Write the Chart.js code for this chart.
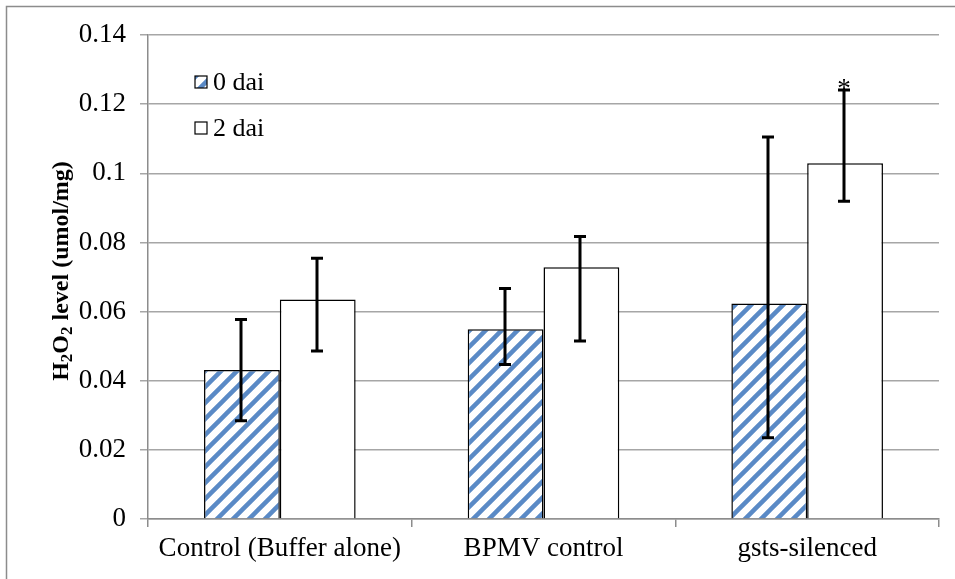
<!DOCTYPE html>
<html>
<head>
<meta charset="utf-8">
<script src="https://cdn.jsdelivr.net/npm/chart.js@4.4.1/dist/chart.umd.min.js"></script>
<style>
  html, body { margin: 0; padding: 0; background: #fff; }
  #wrap { width: 955px; height: 579px; }
</style>
</head>
<body>
<div id="wrap"><canvas id="chart" width="955" height="579"></canvas></div>
<script>
// Data
const categories = ['Control (Buffer alone)', 'BPMV control', 'gsts-silenced'];
const seriesNames = ['0 dai', '2 dai'];
const dai0 = [0.0431, 0.0549, 0.0623];
const dai0Low = [0.0284, 0.0447, 0.0235];
const dai0High = [0.0577, 0.0667, 0.1105];
const dai2 = [0.0635, 0.0728, 0.1029];
const dai2Low = [0.0486, 0.0515, 0.0919];
const dai2High = [0.0754, 0.0817, 0.1241];
const starred = [false, false, true]; // significance mark on 2 dai
const yTicks = [0, 0.02, 0.04, 0.06, 0.08, 0.1, 0.12, 0.14];

const FONT = '"Liberation Serif", "Times New Roman", serif';

// Blue diagonal stripes for the 0 dai bars
function makeStripes() {
    const s = 16;
    const c = document.createElement('canvas');
    c.width = s; c.height = s;
    const g = c.getContext('2d');
    g.fillStyle = '#fff';
    g.fillRect(0, 0, s, s);
    g.strokeStyle = '#5a8ac6';
    g.lineWidth = 4.5;
    g.beginPath();
    g.moveTo(-s / 2, s / 2); g.lineTo(s / 2, -s / 2);
    g.moveTo(0, s); g.lineTo(s, 0);
    g.moveTo(s / 2, s * 1.5); g.lineTo(s * 1.5, s / 2);
    g.stroke();
    return g.createPattern(c, 'repeat');
}
const stripes = makeStripes();

const errLow = [dai0Low, dai2Low];
const errHigh = [dai0High, dai2High];

// Frame, error bars, asterisk, legend and y title
const extras = {
    id: 'extras',
    beforeDraw(chart) {
        const ctx = chart.ctx;
        ctx.save();
        ctx.strokeStyle = '#8c8c8c';
        ctx.lineWidth = 1.5;
        ctx.strokeRect(6.5, 6.5, 1200, 1200);
        ctx.restore();
    },
    afterDatasetsDraw(chart) {
        const ctx = chart.ctx;
        const y = chart.scales.y;
        ctx.save();
        ctx.strokeStyle = '#000';
        ctx.lineWidth = 3;
        chart.data.datasets.forEach((ds, di) => {
            chart.getDatasetMeta(di).data.forEach((bar, i) => {
                const x = Math.round(bar.x) - 1;
                const lo = y.getPixelForValue(errLow[di][i]);
                const hi = y.getPixelForValue(errHigh[di][i]);
                ctx.beginPath();
                ctx.moveTo(x, lo); ctx.lineTo(x, hi);
                ctx.moveTo(x - 6, lo); ctx.lineTo(x + 6, lo);
                ctx.moveTo(x - 6, hi); ctx.lineTo(x + 6, hi);
                ctx.stroke();
                if (di === 1 && starred[i]) {
                    ctx.fillStyle = '#000';
                    ctx.font = '27px ' + FONT;
                    ctx.textAlign = 'center';
                    ctx.textBaseline = 'alphabetic';
                    ctx.fillText('*', x, hi + 7);
                }
            });
        });

        // legend
        ctx.font = '26px ' + FONT;
        ctx.textAlign = 'left';
        ctx.textBaseline = 'middle';
        const fills = [stripes, '#fff'];
        seriesNames.forEach((name, k) => {
            const cy = 82 + k * 46;
            ctx.fillStyle = fills[k];
            ctx.fillRect(195, cy - 6, 12, 12);
            ctx.strokeStyle = '#000';
            ctx.lineWidth = 1.2;
            ctx.strokeRect(195, cy - 6, 12, 12);
            ctx.fillStyle = '#000';
            ctx.fillText(name, 213, cy + 1);
        });

        // y axis title with subscripts
        ctx.translate(60, 271);
        ctx.rotate(-Math.PI / 2);
        const parts = [['H', 0], ['2', 1], ['O', 0], ['2', 1], [' level (umol/mg)', 0]];
        const big = 'bold 24px ' + FONT, small = 'bold 17px ' + FONT;
        let total = 0;
        parts.forEach(p => { ctx.font = p[1] ? small : big; total += ctx.measureText(p[0]).width; });
        let px = -total / 2;
        ctx.textAlign = 'left';
        ctx.textBaseline = 'alphabetic';
        parts.forEach(p => {
            ctx.font = p[1] ? small : big;
            ctx.fillText(p[0], px, p[1] ? 12 : 8);
            px += ctx.measureText(p[0]).width;
        });
        ctx.restore();
    }
};

new Chart(document.getElementById('chart'), {
    type: 'bar',
    data: {
        labels: categories,
        datasets: [
            { label: seriesNames[0], data: dai0, backgroundColor: stripes, borderColor: '#000', borderWidth: 1.5 },
            { label: seriesNames[1], data: dai2, backgroundColor: '#fff', borderColor: '#000', borderWidth: 1.5 }
        ]
    },
    options: {
        responsive: false,
        animation: false,
        layout: { padding: { top: 35, right: 16, left: 0, bottom: 0 } },
        datasets: { bar: { categoryPercentage: 0.575, barPercentage: 1 } },
        plugins: { legend: { display: false }, tooltip: { enabled: false } },
        scales: {
            x: {
                grid: { offset: true, drawOnChartArea: false, color: '#8c8c8c', lineWidth: 1.5, tickLength: 8 },
                border: { color: '#8c8c8c', width: 1.5 },
                ticks: { color: '#000', font: { family: FONT, size: 27 }, padding: 6, maxRotation: 0 },
                afterFit(scale) { scale.height = 60; }
            },
            y: {
                min: 0,
                max: 0.14,
                afterBuildTicks(scale) { scale.ticks = yTicks.map(v => ({ value: v })); },
                grid: { color: '#a6a6a6', lineWidth: 1.5, tickLength: 8 },
                border: { color: '#8c8c8c', width: 1.5 },
                ticks: { color: '#000', font: { family: FONT, size: 27 }, padding: 14,
                    callback: v => String(+v.toFixed(2)) },
                afterFit(scale) { scale.width = 148; }
            }
        }
    },
    plugins: [extras]
});
</script>
</body>
</html>
